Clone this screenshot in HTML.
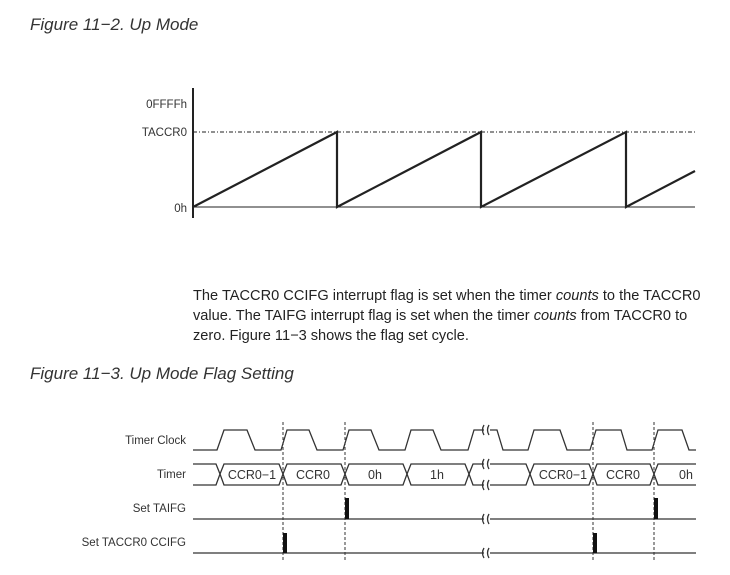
<!DOCTYPE html>
<html><head><style>
body{margin:0;background:#fff;width:730px;height:575px;overflow:hidden;font-family:"Liberation Sans",sans-serif;}
.t{position:absolute;font-style:italic;font-size:17px;color:#333;left:30px;}
.p{position:absolute;left:193px;top:286px;font-size:14.6px;line-height:20px;color:#222;width:522px;}
</style></head><body>
<div class="t" style="top:15px">Figure 11−2.  Up Mode</div>
<div class="p">The TACCR0 CCIFG interrupt flag is set when the timer <i>counts</i> to the TACCR0 value. The TAIFG interrupt flag is set when the timer <i>counts</i> from TACCR0 to zero. Figure 11−3 shows the flag set cycle.</div>
<div class="t" style="top:364px">Figure 11−3.  Up Mode Flag Setting</div>
<svg width="730" height="575" style="position:absolute;left:0;top:0" font-family="Liberation Sans, sans-serif" font-size="12" fill="#333">
<g stroke="#222" fill="none">
<line x1="193" y1="88" x2="193" y2="218" stroke-width="2"/>
<line x1="193" y1="132" x2="695" y2="132" stroke-dasharray="4,2,1,2" stroke-width="1"/>
<line x1="193" y1="207" x2="695" y2="207" stroke-width="1"/>
<polyline points="193,207 337,132 337,207 481,132 481,207 626,132 626,207 695,171" stroke-width="2.2"/>
</g>
<g text-anchor="end" font-size="11.5">
<text x="187" y="108">0FFFFh</text>
<text x="187" y="136">TACCR0</text>
<text x="187" y="212">0h</text>
<text x="186" y="444">Timer Clock</text>
<text x="186" y="478">Timer</text>
<text x="186" y="512">Set TAIFG</text>
<text x="186" y="546">Set TACCR0 CCIFG</text>
</g>
<g stroke="#333" fill="none" stroke-width="1.3">
<polyline points="193,450 217,450 224,430 247,430 255,450 281,450 287,430 309,430 317,450 343,450 349,430 371,430 379,450 405,450 411,430 433,430 441,450 468,450 474,430 484,430"/>
<polyline points="490,430 497,430 503,450 528,450 534,430 560,430 567,450 590,450 596,430 621,430 627,450 652,450 658,430 682,430 689,450 696,450"/>
<path d="M193,464 H216 L220,474 L224,464 H279 L283,474 L287,464 H341 L345,474 L349,464 H403 L407,474 L411,464 H465 L469,474 L473,464 H484 M490,464 H526 L530,474 L534,464 H589 L593,474 L597,464 H650 L654,474 L658,464 H696"/>
<path d="M193,485 H216 L220,474 L224,485 H279 L283,474 L287,485 H341 L345,474 L349,485 H403 L407,474 L411,485 H465 L469,474 L473,485 H484 M490,485 H526 L530,474 L534,485 H589 L593,474 L597,485 H650 L654,474 L658,485 H696"/>
<path d="M193,519 H484 M490,519 H696 M193,553 H484 M490,553 H696"/>
<path d="M484,425 q-3,5 0,10 M489,425 q-3,5 0,10 M484,459 q-3,5 0,10 M489,459 q-3,5 0,10 M484,480 q-3,5 0,10 M489,480 q-3,5 0,10 M484,514 q-3,5 0,10 M489,514 q-3,5 0,10 M484,548 q-3,5 0,10 M489,548 q-3,5 0,10"/>
<g stroke-dasharray="3,2" stroke-width="1"><line x1="283" y1="422" x2="283" y2="562"/><line x1="345" y1="422" x2="345" y2="562"/><line x1="593" y1="422" x2="593" y2="562"/><line x1="654" y1="422" x2="654" y2="562"/></g>
</g>
<g fill="#111"><rect x="283" y="533" width="4" height="20"/><rect x="345" y="498" width="4" height="21"/><rect x="593" y="533" width="4" height="20"/><rect x="654" y="498" width="4" height="21"/></g>
<g text-anchor="middle" font-size="12.5">
<text x="252" y="479">CCR0−1</text><text x="313" y="479">CCR0</text><text x="375" y="479">0h</text><text x="437" y="479">1h</text>
<text x="563" y="479">CCR0−1</text><text x="623" y="479">CCR0</text><text x="686" y="479">0h</text>
</g>
</svg>
</body></html>
